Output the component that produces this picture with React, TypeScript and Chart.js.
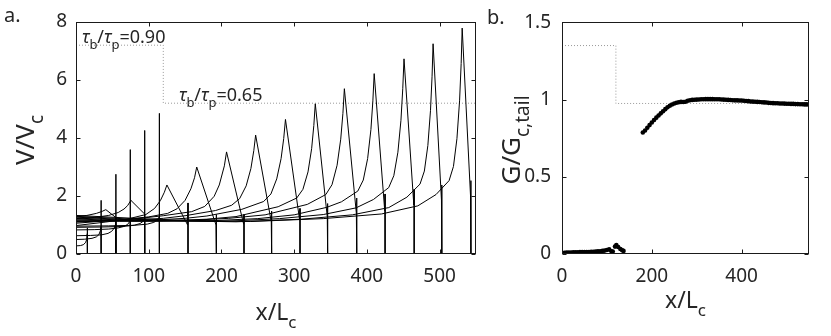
import React, { useEffect, useRef } from 'react';
import { Chart, registerables } from 'chart.js';
Chart.register(...registerables);

const FONT = '"Noto Sans", "DejaVu Sans", sans-serif';
const TXT = '#262626';

// ---------- Panel a: V/Vc snapshots (x/Lc, V/Vc) ----------
// tau_b/tau_p = 0.90 region fronts
const snapA1 = [[0,0.28],[6,0.29],[10,0.32],[13,0.39],[14.8,0.5],[15.5,0.7],[15.6,0.9],[15.7,0]];
const snapA2 = [[0,0.5],[12,0.51],[22,0.54],[28,0.59],[31.5,0.67],[33.5,0.8],[34.4,0.95],[34.5,1.85],[34.6,0]];
const snapA3 = [[0,0.63],[20,0.64],[35,0.66],[44,0.71],[49,0.78],[52.5,0.89],[54.6,1.04],[54.8,2.75],[54.9,0]];
const snapA4 = [[0,0.83],[25,0.84],[45,0.86],[58,0.9],[66,0.95],[71,1.02],[74.4,1.14],[74.6,3.6],[74.7,0]];
const snapA5 = [[0,0.92],[35,0.93],[65,0.95],[80,0.99],[88,1.05],[92.5,1.13],[94.3,1.23],[94.4,4.26],[94.5,0]];
const snapA6 = [[0,0.96],[45,0.97],[80,0.99],[98,1.03],[107,1.09],[112,1.17],[114.5,1.28],[114.6,4.85],[114.7,0]];
const snapK1 = [[0,1.3],[15,1.33],[28,1.4],[36,1.47],[41,1.53],[54.7,1.26],[54.8,0]];
const snapK2 = [[0,1.22],[25,1.26],[45,1.33],[58,1.43],[66,1.55],[71,1.67],[75.5,1.85],[94.3,1.38],[94.4,0]];
// tau_b/tau_p = 0.65 region fronts
const snapC1 = [[0,0.98],[40,1.1],[70,1.2],[96,1.36],[108,1.57],[116,1.84],[121.5,2.13],[125,2.38],[153.5,1.0],[154,1.76],[154,0]];
const snapC2 = [[0,1.06],[60,1.18],[100,1.28],[126,1.4],[139,1.56],[150,1.85],[158,2.25],[163,2.63],[166,3.0],[192.5,1.0],[193,1.36],[193,0]];
const snapC3 = [[0,1.1],[70,1.18],[120,1.32],[159,1.46],[177,1.64],[190,1.99],[197,2.38],[204,3.04],[207,3.52],[230.5,1.03],[231,1.36],[231,0]];
const snapC4 = [[0,1.12],[80,1.17],[120,1.23],[150,1.32],[192,1.5],[214,1.68],[225,1.91],[234,2.35],[240.5,2.95],[244.5,3.57],[247,4.1],[268.5,1.11],[269,1.48],[269,0]];
const snapC5 = [[0,1.15],[50,1.13],[100,1.16],[150,1.23],[180,1.31],[228,1.54],[258,1.81],[268,2.07],[276,2.59],[282,3.29],[285.6,3.98],[288,4.64],[307.5,1.17],[308,1.57],[308,0]];
const snapC6 = [[0,1.18],[60,1.13],[120,1.14],[180,1.2],[220,1.29],[278,1.63],[303.5,1.93],[312,2.23],[319,2.83],[324,3.63],[327,4.43],[329,5.18],[345.5,1.28],[346,1.74],[346,0]];
const snapC7 = [[0,1.21],[80,1.13],[150,1.15],[210,1.23],[260,1.35],[318,1.71],[343.5,2.05],[352,2.39],[359,3.06],[364,3.96],[367,4.85],[369,5.7],[385.5,1.4],[386,1.93],[386,0]];
const snapC8 = [[0,1.24],[90,1.14],[180,1.14],[250,1.22],[300,1.35],[345,1.61],[365,1.8],[387.5,2.17],[395,2.55],[401,3.29],[405.5,4.29],[408.2,5.28],[410,6.22],[424.5,1.49],[425,2.07],[425,0]];
const snapC9 = [[0,1.27],[100,1.15],[200,1.12],[280,1.22],[340,1.36],[385,1.59],[409,1.88],[430,2.29],[437,2.7],[442.6,3.51],[446.8,4.61],[449.3,5.7],[451,6.73],[464.5,1.69],[465,2.23],[465,0]];
const snapC10 = [[0,1.3],[110,1.16],[220,1.11],[310,1.2],[380,1.35],[430,1.6],[455,1.96],[473,2.41],[479,2.86],[483.8,3.74],[487.4,4.94],[489.6,6.13],[491,7.25],[502.5,1.86],[503,2.38],[503,0]];
const snapC11 = [[0,1.33],[120,1.18],[240,1.12],[340,1.22],[420,1.38],[470,1.66],[495,2.05],[513,2.53],[519,3.02],[523.8,3.98],[527.4,5.28],[529.6,6.57],[531,7.79],[542.5,2.0],[543,2.53],[543,0]];

const snapshotsA = [snapA1, snapA2, snapA3, snapA4, snapA5, snapA6, snapK1, snapK2,
  snapC1, snapC2, snapC3, snapC4, snapC5, snapC6, snapC7, snapC8, snapC9, snapC10, snapC11];

// tau_b/tau_p step (dotted)
const stepX = [0, 120, 120, 550];
const stepA = [7.2, 7.2, 5.2, 5.2];
const stepB = [1.35, 1.35, 0.975, 0.975];

const xTicksA = [0, 100, 200, 300, 400, 500];
const yTicksA = [0, 2, 4, 6, 8];
const xTicksB = [0, 200, 400];
const yTicksB = [0, 0.5, 1, 1.5];

// ---------- Panel b: G/Gc,tail ----------
const gxEarly = [5,10,15,20,25,30,35,40,45,50,55,60,65,70,75,80,85,90,95,100,105,110,113,118,121,125,130,134,137];
const gEarly = [0.008,0.009,0.01,0.01,0.011,0.011,0.011,0.012,0.012,0.012,0.013,0.013,0.014,0.015,0.016,0.017,0.018,0.02,0.022,0.026,0.03,0.018,0.016,0.048,0.058,0.045,0.032,0.024,0.02];
const gxMain = [180,185,190,195,200,205,210,215,220,225,230,235,240,245,250,255,260,265,270,275,280,285,290,295,300,305,310,315,320,325,330,335,340,345,350,355,360,365,370,375,380,385,390,395,400,405,410,415,420,425,430,435,440,445,450,455,460,465,470,475,480,485,490,495,500,505,510,515,520,525,530,535,540,545,550];
const gMain = [0.787,0.8,0.818,0.835,0.852,0.868,0.883,0.897,0.911,0.925,0.938,0.95,0.96,0.968,0.975,0.98,0.983,0.985,0.984,0.986,0.993,0.996,0.998,0.999,1.0,1.001,1.002,1.002,1.003,1.003,1.003,1.003,1.002,1.002,1.002,1.001,1.0,0.999,0.998,0.997,0.996,0.995,0.995,0.994,0.994,0.993,0.991,0.99,0.988,0.987,0.986,0.985,0.984,0.983,0.982,0.981,0.979,0.978,0.977,0.976,0.976,0.975,0.975,0.974,0.973,0.973,0.972,0.972,0.971,0.971,0.97,0.97,0.969,0.969,0.968];

type Part = { t: string; sub?: boolean; it?: boolean };

function drawRich(ctx: CanvasRenderingContext2D, parts: Part[], x: number, y: number, size: number, align: string) {
  const fontFor = (p: Part) => `${p.it ? 'italic ' : ''}${p.sub ? Math.round(size * 0.72) : size}px ${FONT}`;
  let total = 0;
  for (const p of parts) { ctx.font = fontFor(p); total += ctx.measureText(p.t).width; }
  let cx = align === 'center' ? x - total / 2 : x;
  ctx.textAlign = 'left';
  ctx.textBaseline = 'alphabetic';
  for (const p of parts) {
    ctx.font = fontFor(p);
    ctx.fillText(p.t, cx, y + (p.sub ? size * 0.33 : 0));
    cx += ctx.measureText(p.t).width;
  }
}

const labelsPlugin = {
  id: 'richLabels',
  afterDraw(chart: any, _a: any, opts: any) {
    const ctx = chart.ctx as CanvasRenderingContext2D;
    const area = chart.chartArea;
    ctx.save();
    ctx.fillStyle = TXT;
    for (const it of (opts.items || [])) {
      const x = it.x === 'center' ? (area.left + area.right) / 2 : it.x;
      const y = it.y;
      if (it.rot) {
        ctx.save();
        ctx.translate(x, y);
        ctx.rotate(-Math.PI / 2);
        drawRich(ctx, it.parts, 0, 0, it.size, it.align);
        ctx.restore();
      } else {
        drawRich(ctx, it.parts, x, y, it.size, it.align);
      }
    }
    ctx.restore();
  },
};

const framePlugin = {
  id: 'boxFrame',
  afterDatasetsDraw(chart: any) {
    const { ctx, chartArea: a, scales } = chart;
    ctx.save();
    ctx.strokeStyle = '#1a1a1a';
    ctx.lineWidth = 1;
    const L = Math.round(a.left) + 0.5, R = Math.round(a.right) - 0.5;
    const T = Math.round(a.top) + 0.5, B = Math.round(a.bottom) - 0.5;
    ctx.strokeRect(L, T, R - L, B - T);
    const len = 4;
    ctx.beginPath();
    for (const t of scales.x.ticks) {
      const p = Math.round(scales.x.getPixelForValue(t.value)) + 0.5;
      ctx.moveTo(p, B); ctx.lineTo(p, B - len);
      ctx.moveTo(p, T); ctx.lineTo(p, T + len);
    }
    for (const t of scales.y.ticks) {
      const p = Math.round(scales.y.getPixelForValue(t.value)) + 0.5;
      ctx.moveTo(L, p); ctx.lineTo(L + len, p);
      ctx.moveTo(R, p); ctx.lineTo(R - len, p);
    }
    ctx.stroke();
    ctx.restore();
  },
};

const tickFont = { size: 19, family: FONT };

function makeScale(min: number, max: number, ticks: number[], isX: boolean, fitSize: number, padding: number) {
  return {
    type: 'linear',
    min, max,
    afterBuildTicks: (s: any) => { s.ticks = ticks.map((v) => ({ value: v })); },
    afterFit: (s: any) => { if (isX) s.height = fitSize; else s.width = fitSize; },
    grid: { display: false, drawTicks: false },
    border: { display: false },
    ticks: { font: tickFont, color: TXT, padding, maxRotation: 0, autoSkip: false, callback: (v: any) => String(v) },
  };
}

const tauParts = (val: string): Part[] => [
  { t: 'τ', it: true }, { t: 'b', sub: true }, { t: '/' }, { t: 'τ', it: true }, { t: 'p', sub: true }, { t: '=' + val },
];

export default function App() {
  const refA = useRef<HTMLCanvasElement>(null);
  const refB = useRef<HTMLCanvasElement>(null);

  useEffect(() => {
    const dsA: any[] = [{
      data: stepX.map((x, i) => ({ x, y: stepA[i] })),
      showLine: true, borderColor: '#9a9a9a', borderDash: [1, 2], borderWidth: 1, pointRadius: 0, order: 5,
    }];
    snapshotsA.forEach((pts) => {
      dsA.push({
        data: pts.map(([x, y]) => ({ x, y })),
        showLine: true, borderColor: '#000', borderWidth: 1, pointRadius: 0, tension: 0, order: 1,
      });
    });
    const chartA = new Chart(refA.current!, {
      type: 'scatter',
      data: { datasets: dsA },
      options: {
        animation: false, responsive: false, maintainAspectRatio: false,
        layout: { padding: { left: 0, right: 4, top: 22, bottom: 0 } },
        plugins: {
          legend: { display: false }, tooltip: { enabled: false },
          richLabels: {
            items: [
              { x: 4, y: 22, size: 20, align: 'left', parts: [{ t: 'a.' }] },
              { x: 34, y: 140, rot: true, size: 26, align: 'center', parts: [{ t: 'V/V' }, { t: 'c', sub: true }] },
              { x: 'center', y: 320, size: 23, align: 'center', parts: [{ t: 'x/L' }, { t: 'c', sub: true }] },
              { x: 82, y: 43, size: 18, align: 'left', parts: tauParts('0.90') },
              { x: 179, y: 101, size: 18, align: 'left', parts: tauParts('0.65') },
            ],
          },
        } as any,
        scales: {
          x: makeScale(0, 550, xTicksA, true, 336 - 254, 11),
          y: makeScale(0, 8, yTicksA, false, 76, 9),
        } as any,
      },
      plugins: [framePlugin, labelsPlugin],
    });

    const chartB = new Chart(refB.current!, {
      type: 'scatter',
      data: {
        datasets: [
          {
            data: stepX.map((x, i) => ({ x, y: stepB[i] })),
            showLine: true, borderColor: '#9a9a9a', borderDash: [1, 2], borderWidth: 1, pointRadius: 0, order: 5,
          },
          {
            data: gxEarly.map((x, i) => ({ x, y: gEarly[i] })),
            showLine: false, pointRadius: 2.3, pointBackgroundColor: '#000', pointBorderWidth: 0, order: 1,
          },
          {
            data: gxMain.map((x, i) => ({ x, y: gMain[i] })),
            showLine: false, pointRadius: 2.3, pointBackgroundColor: '#000', pointBorderWidth: 0, order: 1,
          },
        ] as any,
      },
      options: {
        animation: false, responsive: false, maintainAspectRatio: false,
        layout: { padding: { left: 0, right: 22, top: 22, bottom: 0 } },
        plugins: {
          legend: { display: false }, tooltip: { enabled: false },
          richLabels: {
            items: [
              { x: 7, y: 24, size: 20, align: 'left', parts: [{ t: 'b.' }] },
              { x: 40, y: 140, rot: true, size: 26, align: 'center', parts: [{ t: 'G/G' }, { t: 'c,tail', sub: true }] },
              { x: 'center', y: 308, size: 23, align: 'center', parts: [{ t: 'x/L' }, { t: 'c', sub: true }] },
            ],
          },
        } as any,
        scales: {
          x: makeScale(0, 550, xTicksB, true, 336 - 254, 11),
          y: makeScale(0, 1.5, yTicksB, false, 82, 11),
        } as any,
      },
      plugins: [framePlugin, labelsPlugin],
    });

    return () => { chartA.destroy(); chartB.destroy(); };
  }, []);

  return (
    <div style={{ position: 'absolute', left: 0, top: 0, width: 831, height: 336, background: '#fff' }}>
      <canvas ref={refA} width={480} height={336} style={{ position: 'absolute', left: 0, top: 0 }} />
      <canvas ref={refB} width={351} height={336} style={{ position: 'absolute', left: 480, top: 0 }} />
    </div>
  );
}
